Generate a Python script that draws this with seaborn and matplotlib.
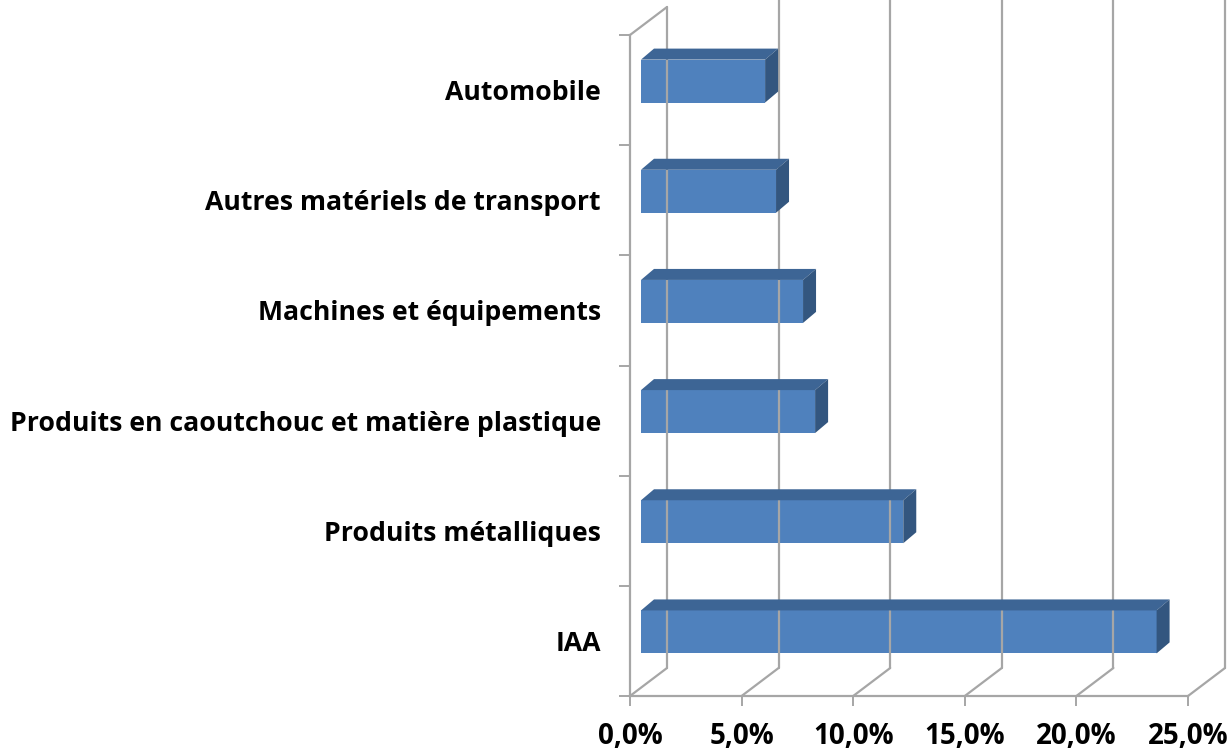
import matplotlib
matplotlib.use("Agg")
import matplotlib.pyplot as plt
import matplotlib.transforms as mtransforms
from matplotlib.patches import Polygon
import seaborn as sns
import numpy as np

# données (part en %)
secteurs = ["Automobile",
            "Autres matériels de transport",
            "Machines et équipements",
            "Produits en caoutchouc et matière plastique",
            "Produits métalliques",
            "IAA"]
valeurs = [5.56, 6.05, 7.26, 7.8, 11.75, 23.1]
ticks_x = [0, 5, 10, 15, 20, 25]

sns.set_style("white")
plt.rcParams['font.family'] = ['Open Sans', 'DejaVu Sans']
plt.rcParams['text.color'] = 'black'
plt.rcParams['xtick.color'] = 'black'
plt.rcParams['ytick.color'] = 'black'

GRIS = "#A6A6A6"
FACE = "#4F81BD"
DESSUS = "#3D6595"
COTE = "#33567F"

fig = plt.figure(figsize=(12.31, 7.52), dpi=100)
ax = fig.add_axes([630 / 1231, 56 / 752, 558 / 1231, 661 / 752])

sns.barplot(x=valeurs, y=secteurs, orient="h", color=FACE, saturation=1,
            width=0.39, ax=ax, zorder=3)
ax.set_xlim(0, 25)
ax.set_ylim(5.5, -0.5)

# profondeur de la pseudo-3D (en pixels)
bar_dx, bar_dy = 11, 9      # face avant des barres
prof_dx, prof_dy = 13, 11   # épaisseur des barres
mur_dx, mur_dy = 37, 28     # plan du fond

decal = mtransforms.ScaledTranslation(bar_dx / 100, bar_dy / 100, fig.dpi_scale_trans)
ident = mtransforms.IdentityTransform()

fig.canvas.draw()
for p in ax.patches:
    p.set_transform(ax.transData + decal)
    p.set_edgecolor("none")
    x0, y0 = p.get_x(), p.get_y()
    x1, y1 = x0 + p.get_width(), y0 + p.get_height()
    (ax0, ay_top), (ax1, ay_bot) = ax.transData.transform([(x0, y0), (x1, y1)])
    ax0 += bar_dx; ax1 += bar_dx
    ay_top += bar_dy; ay_bot += bar_dy
    dessus = [(ax0, ay_top), (ax1, ay_top), (ax1 + prof_dx, ay_top + prof_dy), (ax0 + prof_dx, ay_top + prof_dy)]
    cote = [(ax1, ay_top), (ax1 + prof_dx, ay_top + prof_dy), (ax1 + prof_dx, ay_bot + prof_dy), (ax1, ay_bot)]
    fig.add_artist(Polygon(dessus, closed=True, facecolor=DESSUS, edgecolor="none", transform=ident, zorder=3))
    fig.add_artist(Polygon(cote, closed=True, facecolor=COTE, edgecolor="none", transform=ident, zorder=3))

# grille du fond, plancher et mur gauche
for v in ticks_x:
    (fx, fy_bas), (_, fy_haut) = ax.transData.transform([(v, 5.5), (v, -0.5)])
    haut = fy_haut + mur_dy if v == 0 else fy_haut + mur_dy + 20
    fig.add_artist(plt.Line2D([fx + mur_dx, fx + mur_dx], [fy_bas + mur_dy, haut],
                              color=GRIS, lw=1.6, transform=ident, zorder=1))
    fig.add_artist(plt.Line2D([fx, fx + mur_dx], [fy_bas, fy_bas + mur_dy],
                              color=GRIS, lw=1.6, transform=ident, zorder=1))
(fx, fy_haut), = ax.transData.transform([(0, -0.5)])
fig.add_artist(plt.Line2D([fx, fx + mur_dx], [fy_haut, fy_haut + mur_dy],
                          color=GRIS, lw=1.6, transform=ident, zorder=1))

for s in ["top", "right"]:
    ax.spines[s].set_visible(False)
for s in ["left", "bottom"]:
    ax.spines[s].set_color(GRIS)
    ax.spines[s].set_linewidth(1.6)

ax.set_xticks(ticks_x)
ax.set_xticklabels([f"{v:.1f}%".replace(".", ",") for v in ticks_x],
                   fontsize=20, fontweight="bold")
ax.tick_params(axis="x", length=7, width=1.4, color=GRIS, labelcolor="black",
               pad=12, direction="out", bottom=True)
ax.set_yticks(np.arange(-0.5, 6, 1), minor=True)
ax.tick_params(axis="y", which="minor", length=8, width=1.4, color=GRIS, direction="out", left=True)
ax.tick_params(axis="y", which="major", length=0, pad=21, labelcolor="black")
for t in ax.get_yticklabels():
    t.set_fontsize(19.2)
    t.set_fontweight("bold")
ax.set_xlabel("")
ax.set_ylabel("")
ax.grid(False)

fig.savefig("out.png", dpi=100)
